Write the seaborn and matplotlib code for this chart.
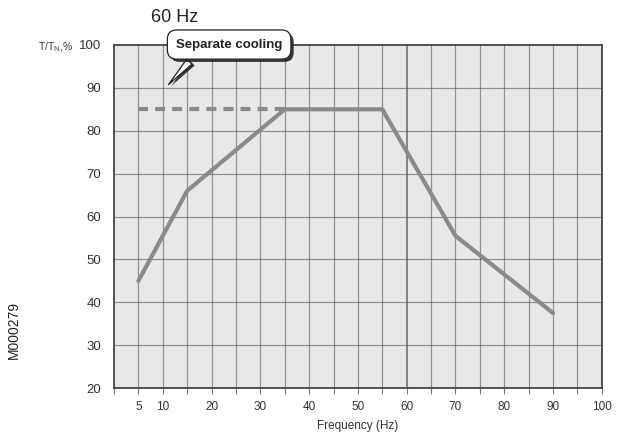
import matplotlib
matplotlib.use("Agg")
import matplotlib.pyplot as plt
import matplotlib.patheffects as pe
import seaborn as sns
import pandas as pd

# Data
freq_hz = [5, 15, 35, 55, 70, 90]
torque_pct = [45, 66, 85, 85, 55.5, 37.5]
cooling_freq = [5, 35]
cooling_torque = [85, 85]

x_ticks = [5, 10, 20, 30, 40, 50, 60, 70, 80, 90, 100]
x_minor = list(range(0, 101, 5))
y_ticks = [20, 30, 40, 50, 60, 70, 80, 90, 100]

sns.set_style("white")
plt.rcParams['font.family'] = ['Liberation Sans', 'DejaVu Sans']

fig = plt.figure(figsize=(6.23, 4.41), dpi=100)
ax = fig.add_axes([0.183, 0.120, 0.783, 0.778])
ax.set_facecolor('#e8e8e8')

df = pd.DataFrame({'freq': freq_hz, 'torque': torque_pct})
sns.lineplot(data=df, x='freq', y='torque', ax=ax, color='#8a8a8a',
             linewidth=3.0, solid_capstyle='round', solid_joinstyle='round')
ax.plot(cooling_freq, cooling_torque, color='#8a8a8a', linewidth=3.0,
        linestyle=(0, (2.4, 1.7)))

ax.set_xlim(0, 100)
ax.set_ylim(20, 100)

# grid every 5 Hz and every 10 %
for xv in x_minor[1:-1]:
    ax.axvline(xv, color='#555555' if xv != 60 else '#333333',
               linewidth=0.9 if xv != 60 else 1.3, alpha=0.6, zorder=0)
for yv in y_ticks[1:-1]:
    ax.axhline(yv, color='#555555', linewidth=0.9, alpha=0.6, zorder=0)

ax.set_xticks(x_minor, minor=True)
ax.set_xticks(x_ticks)
ax.set_yticks(y_ticks)
ax.tick_params(axis='x', which='both', direction='out', length=4, width=0.8,
               color='#777777', bottom=True, labelsize=8.5, labelcolor='#333333', pad=5)
ax.tick_params(axis='y', length=0, labelsize=9.5, labelcolor='#333333', pad=9)
ax.set_xlabel('Frequency (Hz)', fontsize=8.5, color='#333333', labelpad=5)
ax.set_ylabel('')

for s in ax.spines.values():
    s.set_color('#444444')
    s.set_linewidth(1.3)

# callout
ann = ax.annotate('Separate cooling', xy=(10.8, 90.3), xytext=(23.6, 100.1),
                  ha='center', va='center', fontsize=9.5, fontweight='bold',
                  color='#222222', annotation_clip=False,
                  bbox=dict(boxstyle='round,pad=0.65,rounding_size=0.7',
                            fc='white', ec='#222222', lw=0.9),
                  arrowprops=dict(arrowstyle='wedge,tail_width=0.55,shrink_factor=0.5',
                                  fc='white', ec='#222222', lw=0.9,
                                  relpos=(0.22, 0.0)))
ann.get_bbox_patch().set_path_effects([
    pe.SimplePatchShadow(offset=(2, -2), shadow_rgbFace='#222222', alpha=0.9),
    pe.Normal()])
ann.arrow_patch.set_path_effects([
    pe.SimplePatchShadow(offset=(2, -1), shadow_rgbFace='#222222', alpha=0.9),
    pe.Normal()])

fig.text(175 / 623, 1 - 18 / 441, '60 Hz', fontsize=13, color='#222222',
         ha='center', va='center')
fig.text(38 / 623, 1 - 47 / 441, r'T/T$_\mathregular{N}$,%', fontsize=7.5,
         color='#333333', ha='left', va='center')
fig.text(14 / 623, 1 - 330 / 441, 'M000279', fontsize=10, color='#222222',
         rotation=90, ha='center', va='center')

fig.savefig('out.png', dpi=100)
